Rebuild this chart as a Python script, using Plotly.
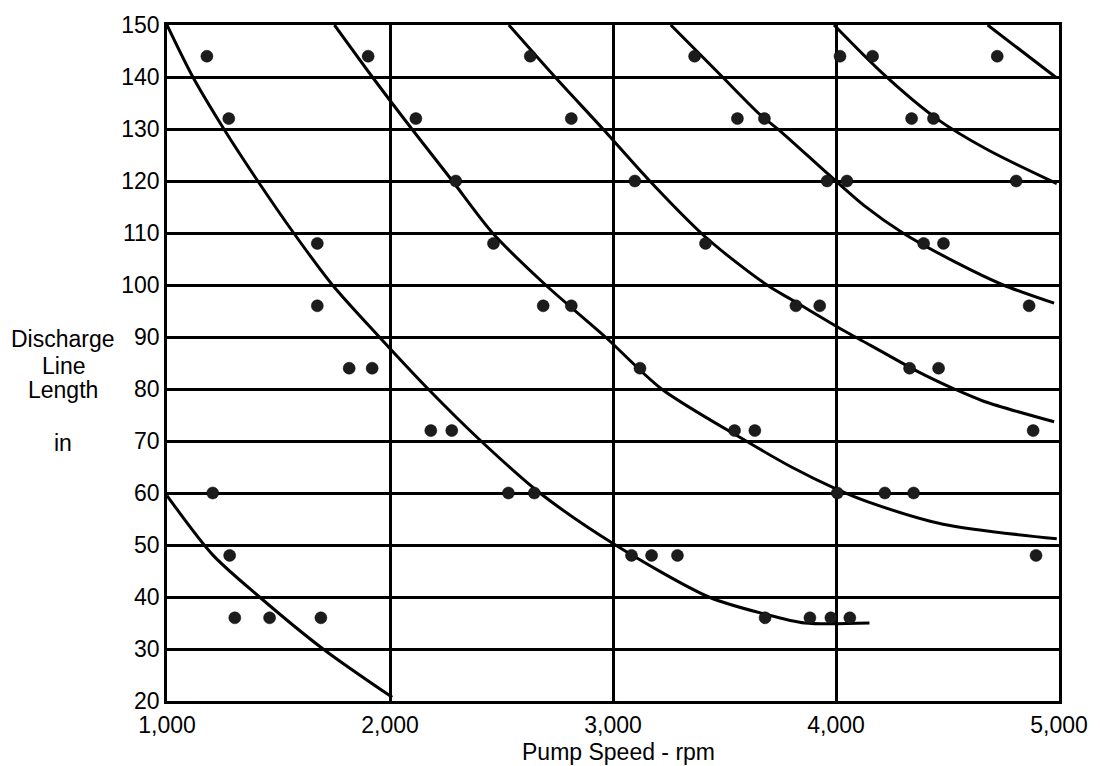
import plotly.graph_objects as go

# Pump speed (rpm) / discharge line length (in) test readings
speed_pts = [1179, 1902, 2629, 3366, 4018, 4164, 4723,
             1277, 2116, 2813, 3558, 3679, 4339, 4437,
             2295, 3098, 3960, 4049, 4808,
             1674, 2464, 3415, 4393, 4482,
             1674, 2687, 2813, 3820, 3927, 4866,
             1817, 1920, 3121, 4330, 4460,
             2183, 2277, 3545, 3636, 4884,
             1205, 2531, 2647, 4006, 4219, 4348,
             1281, 3083, 3173, 3289, 4897,
             1304, 1460, 1690, 3682, 3883, 3977, 4062]
length_pts = [144, 144, 144, 144, 144, 144, 144,
              132, 132, 132, 132, 132, 132, 132,
              120, 120, 120, 120, 120,
              108, 108, 108, 108, 108,
              96, 96, 96, 96, 96, 96,
              84, 84, 84, 84, 84,
              72, 72, 72, 72, 72,
              60, 60, 60, 60, 60, 60,
              48, 48, 48, 48, 48,
              36, 36, 36, 36, 36, 36, 36]

# Faired curves through the readings
curve_a_speed = [1000, 1205, 1415, 1700, 2010]
curve_a_length = [59.5, 48.1, 40, 30, 20.7]

curve_b_speed = [1000, 1116, 1255, 1407, 1568, 1742, 1952, 2171, 2408, 2672,
                 3011, 3430, 3682, 3860, 4150]
curve_b_length = [150, 140, 130, 120, 110, 100, 90, 80, 70, 60,
                  50, 40, 36.7, 35, 35]

curve_c_speed = [1751, 1921, 2098, 2280, 2460, 2698, 2966, 3218, 3597, 3800,
                 4000, 4150, 4480, 4990]
curve_c_length = [150, 140, 130, 120, 110, 100, 90, 80, 70, 65,
                  60.8, 58.2, 54, 51.2]

curve_d_speed = [2533, 2740, 2955, 3165, 3395, 3516, 3708, 3800, 4044, 4155,
                 4365, 4531, 4665, 4978]
curve_d_length = [150, 140, 130, 120, 110, 105.6, 99.5, 97.2, 91, 88.4,
                  83.4, 80, 77.6, 73.7]

curve_e_speed = [3259, 3491, 3661, 3750, 3960, 4125, 4300, 4540, 4750, 4978]
curve_e_length = [150, 140, 132.7, 129.6, 121.5, 115.3, 110, 104.3, 100, 96.5]

curve_f_speed = [3991, 4214, 4451, 4680, 4990]
curve_f_length = [150, 140.5, 132, 126, 119.5]

curve_g_speed = [4680, 4990]
curve_g_length = [150, 139.8]

x_tick_vals = [1000, 2000, 3000, 4000, 5000]
x_tick_text = ["1,000", "2,000", "3,000", "4,000", "5,000"]
y_tick_vals = [20, 30, 40, 50, 60, 70, 80, 90, 100, 110, 120, 130, 140, 150]

FONT = "Liberation Sans, Arial, Helvetica, sans-serif"
TEXT_SIZE = 23

fig = go.Figure()

curves = [
    (curve_a_speed, curve_a_length),
    (curve_b_speed, curve_b_length),
    (curve_c_speed, curve_c_length),
    (curve_d_speed, curve_d_length),
    (curve_e_speed, curve_e_length),
    (curve_f_speed, curve_f_length),
    (curve_g_speed, curve_g_length),
]
for xs, ys in curves:
    fig.add_trace(go.Scatter(
        x=xs, y=ys, mode="lines",
        line=dict(color="black", width=3, shape="spline", smoothing=0.8),
        hoverinfo="skip", showlegend=False,
    ))

fig.add_trace(go.Scatter(
    x=speed_pts, y=length_pts, mode="markers",
    marker=dict(symbol="circle", size=12, color="#1c1c1c",
                line=dict(color="black", width=0.5)),
    showlegend=False,
))

axis_common = dict(
    showgrid=True, gridcolor="black", gridwidth=2.5,
    showline=True, linecolor="black", linewidth=2.5, mirror=True,
    zeroline=False, ticks="",
    tickfont=dict(family=FONT, size=TEXT_SIZE, color="black"),
)

fig.update_xaxes(range=[1000, 5000], tickvals=x_tick_vals, ticktext=x_tick_text,
                 ticklabelstandoff=2, **axis_common)
fig.update_yaxes(range=[20, 150], tickvals=y_tick_vals, **axis_common)

# Axis titles
fig.add_annotation(text="Pump Speed - rpm", xref="paper", yref="paper",
                   x=0.506, y=(701 - 753) / 684, xanchor="center", yanchor="middle",
                   showarrow=False, font=dict(family=FONT, size=TEXT_SIZE, color="black"))

y_title_lines = ["Discharge", "Line", "Length", "in"]
y_title_pix = [335, 362, 386, 440]
for label, py in zip(y_title_lines, y_title_pix):
    fig.add_annotation(text=label, xref="paper", yref="paper",
                       x=(63 - 167) / 895, y=(701 - py) / 684,
                       xanchor="center", yanchor="middle", showarrow=False,
                       font=dict(family=FONT, size=TEXT_SIZE, color="black"))

fig.update_layout(
    width=1100, height=766,
    margin=dict(l=167, r=38, t=17, b=65),
    paper_bgcolor="white", plot_bgcolor="white",
    font=dict(family=FONT, color="black"),
)

fig.write_html("out.html")
